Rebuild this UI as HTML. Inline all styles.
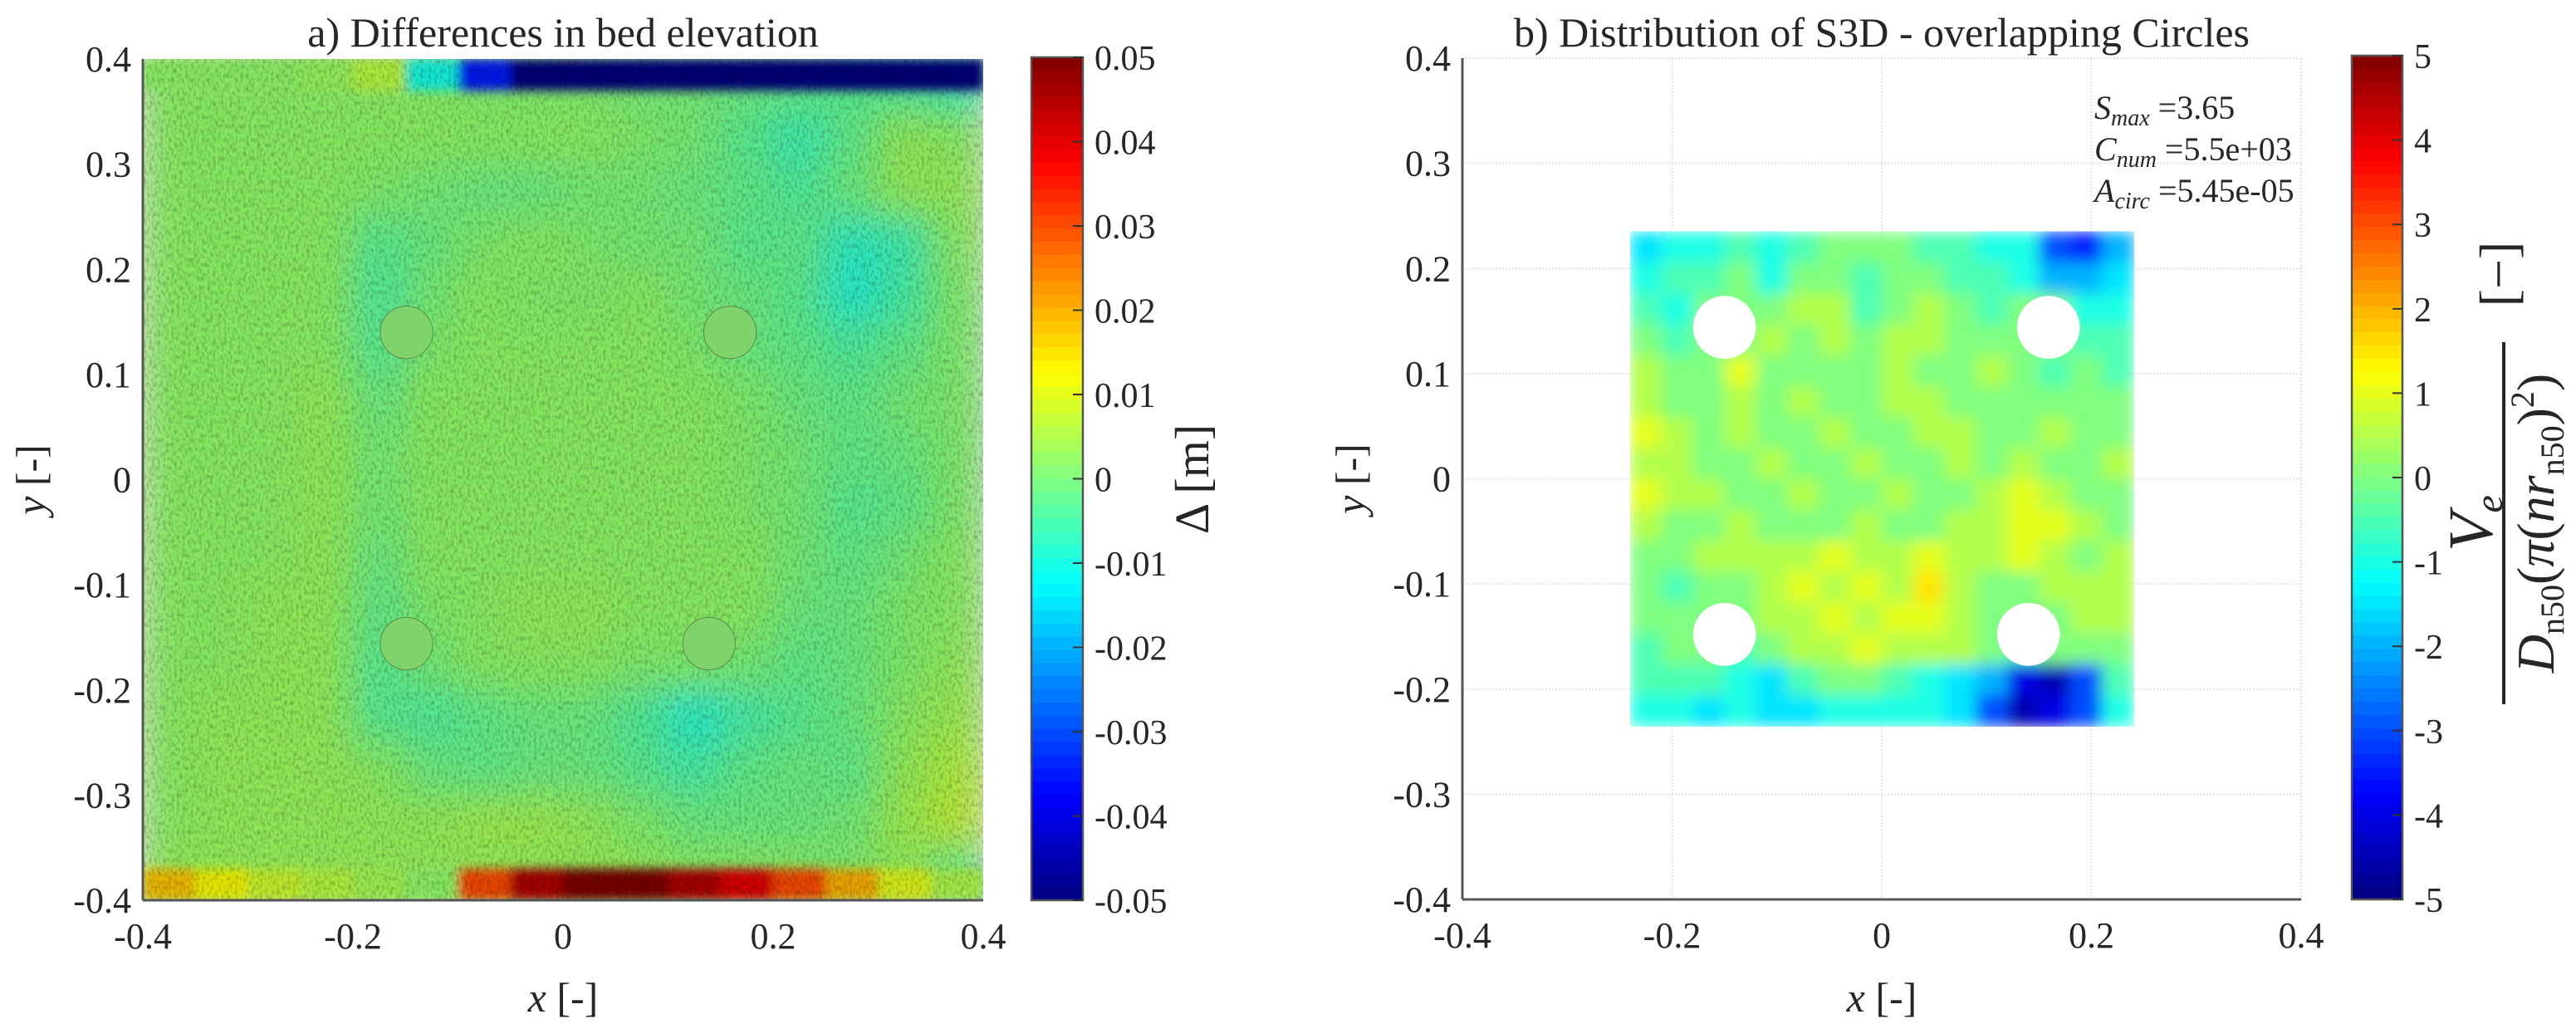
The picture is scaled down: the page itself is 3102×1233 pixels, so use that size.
<!DOCTYPE html>
<html><head><meta charset="utf-8">
<style>
html,body{margin:0;padding:0;background:#fff;}
svg{display:block;}
text{font-family:"Liberation Serif",serif;fill:#262626;}
</style></head>
<body>
<svg id="fig" width="3102" height="1233" viewBox="0 0 3102 1233" xmlns="http://www.w3.org/2000/svg">
<defs>
  <filter id="blurL" x="0" y="0" width="1" height="1" filterUnits="objectBoundingBox"><feGaussianBlur stdDeviation="22" edgeMode="duplicate"/></filter>
  <filter id="blurR" x="0" y="0" width="1" height="1" filterUnits="objectBoundingBox"><feGaussianBlur stdDeviation="9" edgeMode="duplicate"/></filter>
  <filter id="blurS" x="0" y="0" width="1" height="1" filterUnits="objectBoundingBox"><feGaussianBlur stdDeviation="6" edgeMode="duplicate"/></filter>
  <filter id="grain" x="0" y="0" width="1" height="1">
    <feTurbulence type="fractalNoise" baseFrequency="0.3 0.18" numOctaves="2" seed="3"/>
    <feColorMatrix type="matrix" values="0 0 0 0 0  0 0 0 0 0  0 0 0 0 0  1.2 0 0 0 -0.5"/>
  </filter>
  <clipPath id="clipL"><rect x="172" y="71" width="1012" height="1013"/></clipPath>
  <clipPath id="clipR"><rect x="1761" y="70" width="1010" height="1013"/></clipPath>
</defs>
<g id="left"></g>
<g id="right"></g>
</svg>
<script>
// ---------- data ----------
const xTicks = [-0.4, -0.2, 0, 0.2, 0.4];
const xTickLabels = ["-0.4", "-0.2", "0", "0.2", "0.4"];
const yTicks = [0.4, 0.3, 0.2, 0.1, 0, -0.1, -0.2, -0.3, -0.4];
const yTickLabels = ["0.4", "0.3", "0.2", "0.1", "0", "-0.1", "-0.2", "-0.3", "-0.4"];
const cbLeftTicks = [0.05, 0.04, 0.03, 0.02, 0.01, 0, -0.01, -0.02, -0.03, -0.04, -0.05];
const cbLeftLabels = ["0.05", "0.04", "0.03", "0.02", "0.01", "0", "-0.01", "-0.02", "-0.03", "-0.04", "-0.05"];
const cbRightTicks = [5, 4, 3, 2, 1, 0, -1, -2, -3, -4, -5];
const cbRightLabels = ["5", "4", "3", "2", "1", "0", "-1", "-2", "-3", "-4", "-5"];

// panel a: bed elevation differences in mm, 16x16 cells over [-0.4,0.4]^2, row 0 = top
const bedDiffMM = [
 [2,2,2,2,2,2,1,1,1,0,0,-1,-2,-3,-4,-6],
 [2,2,2,2,2,2,2,2,2,1,0,-3,-6,-2,3,2],
 [2,2,2,2,1,0,-1,-1,0,0,-1,-2,-4,-1,3,3],
 [2,2,2,2,-3,-1,1,2,1,0,0,-3,-2,-8,-6,2],
 [2,2,2,2,-4,0,2,1,1,2,0,-1,-3,-9,-5,1],
 [2,2,2,2,-3,1,2,2,2,2,1,-1,-2,-4,-2,1],
 [2,2,2,3,-1,2,2,2,2,2,2,1,-1,-2,0,1],
 [2,2,2,3,0,2,2,2,2,2,2,1,0,-2,-1,1],
 [2,2,2,3,0,2,2,2,2,2,2,1,0,-3,-2,1],
 [2,2,2,3,-1,2,2,2,2,2,2,2,0,-2,0,2],
 [2,2,3,3,-2,1,2,3,3,2,2,2,-1,-1,1,2],
 [2,2,3,3,-3,0,2,2,2,1,1,0,-2,-1,1,3],
 [2,3,3,3,-3,-4,-2,-1,-1,-4,-9,-5,-3,-1,2,4],
 [2,3,3,3,2,-1,-2,-1,-1,-3,-5,-2,-1,-2,3,6],
 [2,3,3,3,3,3,4,4,3,1,-1,-1,-1,0,4,7],
 [3,3,3,3,3,3,3,3,3,3,2,2,2,1,3,-2]
];
const topStripMM = [2,2,2,3,6,-10,-35,-50,-50,-50,-50,-50,-50,-50,-50,-50];
const bottomStripMM = [18,12,8,6,4,2,30,45,50,50,45,40,30,20,10,5];
const pileX = [-0.149, 0.159, -0.149, 0.139];
const pileY = [0.140, 0.140, -0.156, -0.156];
const pileR = 0.025;

// panel b: S3D values, 16x16 cells over x[-0.24,0.24], y[-0.235,0.235], row 0 = top
const s3dValues = [
 [-1.5,-1,-1,-0.5,-1,-0.5,0,0,0,-0.5,-0.5,-1,-1,-3,-3.5,-2],
 [-1,-0.5,-0.5,0,-1,0,0,-0.5,0,0,-0.5,-0.5,-1,-2,-2,-1.5],
 [-0.5,-1,0,0,0,0.5,0.5,-0.5,0,0.5,0,-0.5,0,0,-1,-1],
 [0,-0.5,0,0,0.5,0,0.5,0,0.5,0.5,0,0,0,0,-0.5,-0.5],
 [0.5,0,0,1,0,0,0,0,0.5,0,0,0.5,0,-0.5,0,-0.5],
 [0.5,0,0,0.5,0,0.5,0,0,0.5,0.5,0,0,0,0,0,0],
 [1,0.5,0,0.5,0,0,0.5,0,0,0.5,0.5,0,0,0.5,0,0],
 [0.5,0.5,0,0,0.5,0,0,0.5,0,0,0.5,0,0.5,0,0,0.5],
 [1,0.5,0.5,0,0,0.5,0,0,0.5,0,0,0.5,1,0.5,0,0],
 [0.5,0,0,0.5,0,0,0,0.5,0,0,0.5,0.5,1,1,0.5,0],
 [0,0,0.5,0.5,0.5,0.5,1,0.5,0.5,1,0.5,0.5,1,0.5,0,0.5],
 [0,-0.5,0,0,0.5,1,0.5,1,0.5,1.5,0.5,0,0,0.5,0.5,0.5],
 [0,0,0,0,0.5,0.5,1,0.5,1,1,0.5,0,0,0,0.5,0.5],
 [-0.5,0,0,-0.5,0,0.5,0.5,1,0.5,0.5,0.5,0,-0.5,0,0,0],
 [-0.5,-0.5,-0.5,-1,-1.5,-0.5,0,0,-0.5,-1,-1.5,-2,-4,-4.5,-3,-0.5],
 [-1,-1,-1.5,-1,-1.5,-1.5,-1,-1,-1,-1,-1.5,-3,-4.5,-4,-3,-1]
];
const holeX = [-0.15, 0.159, -0.15, 0.14];
const holeY = [0.144, 0.144, -0.148, -0.148];
const holeR = 0.03;
const s3dXRange = [-0.24, 0.24];
const s3dYRange = [-0.235, 0.235];

// ---------- helpers ----------
const NS = "http://www.w3.org/2000/svg";
function mk(tag, attrs, parent) {
  const e = document.createElementNS(NS, tag);
  for (const k in attrs) e.setAttribute(k, attrs[k]);
  if (parent) parent.appendChild(e);
  return e;
}
function clamp(v){return Math.max(0,Math.min(1,v));}
function jet(t) {
  t = clamp(t);
  const r = clamp(1.5 - Math.abs(4*t - 3)), g = clamp(1.5 - Math.abs(4*t - 2)), b = clamp(1.5 - Math.abs(4*t - 1));
  return "rgb(" + Math.round(r*255) + "," + Math.round(g*255) + "," + Math.round(b*255) + ")";
}
function makeAxis(X0, X1, Y0, Y1) {
  return {
    sx: v => X0 + (v + 0.4) / 0.8 * (X1 - X0),
    sy: v => Y0 + (0.4 - v) / 0.8 * (Y1 - Y0),
    X0, X1, Y0, Y1
  };
}
function drawAxes(g, ax, grid) {
  if (grid) {
    xTicks.forEach(v => {
      const l = mk("line", {x1: ax.sx(v), x2: ax.sx(v), y1: ax.Y0, y2: ax.Y1, stroke: "#e3e3e3", "stroke-width": 2, "stroke-dasharray": "2 2"}, g);
      
      
    });
    yTicks.forEach(v => {
      const l = mk("line", {x1: ax.X0, x2: ax.X1, y1: ax.sy(v), y2: ax.sy(v), stroke: "#e3e3e3", "stroke-width": 2, "stroke-dasharray": "2 2"}, g);
      
      
    });
  }
  const xl = mk("line", {x1: ax.X0, x2: ax.X1, y1: ax.Y1, y2: ax.Y1, stroke: "#555", "stroke-width": 3}, g);
  
  
  const yl = mk("line", {x1: ax.X0, x2: ax.X0, y1: ax.Y0, y2: ax.Y1, stroke: "#555", "stroke-width": 3}, g);
  
  
  xTicks.forEach((v, i) => {
    const t = mk("text", {x: ax.sx(v), y: ax.Y1 + 58, "font-size": 44, "text-anchor": "middle"}, g);
    t.textContent = xTickLabels[i];
    
    
  });
  yTicks.forEach((v, i) => {
    const t = mk("text", {x: ax.X0 - 14, y: ax.sy(v) + 15, "font-size": 44, "text-anchor": "end"}, g);
    t.textContent = yTickLabels[i];
    
    
  });
  const cx = (ax.X0 + ax.X1) / 2, cy = (ax.Y0 + ax.Y1) / 2;
  const xlab = mk("text", {x: cx, y: 1218, "font-size": 50, "text-anchor": "middle"}, g);
  xlab.innerHTML = '<tspan font-style="italic">x</tspan> [-]';
  
  
  const ylab = mk("text", {x: 0, y: 0, "font-size": 50, "text-anchor": "middle", transform: "translate(" + (ax.X0 - 118) + "," + cy + ") rotate(-90)"}, g);
  ylab.innerHTML = '<tspan font-style="italic">y</tspan> [-]';
  
  
}
function drawColorbar(g, x0, x1, y0, y1, vmin, vmax, ticks, labels) {
  const n = 64, h = (y1 - y0) / n;
  for (let i = 0; i < n; i++) {
    const r = mk("rect", {x: x0, y: y0 + i*h, width: x1 - x0, height: h + 0.6, fill: jet(1 - (i + 0.5)/n)}, g);
    
    
  }
  const b = mk("rect", {x: x0, y: y0, width: x1 - x0, height: y1 - y0, fill: "none", stroke: "#555", "stroke-width": 2.5}, g);
  
  
  ticks.forEach((v, i) => {
    const y = y1 - (v - vmin) / (vmax - vmin) * (y1 - y0);
    const tk = mk("line", {x1: x1 - 12, x2: x1, y1: y, y2: y, stroke: "#333", "stroke-width": 2}, g);
    
    
    const t = mk("text", {x: x1 + 14, y: y + 15, "font-size": 42}, g);
    t.textContent = labels[i];
    
    
  });
}

// ---------- panel a ----------
(function(){
  const g = document.getElementById("left");
  const ax = makeAxis(172, 1184, 71, 1084);
  const title = mk("text", {x: (ax.X0+ax.X1)/2, y: 56, "font-size": 50, "text-anchor": "middle"}, g);
  title.textContent = "a) Differences in bed elevation";
  
  

  const img = mk("g", {"clip-path": "url(#clipL)"}, g);
  
  
  const cells = mk("g", {filter: "url(#blurL)"}, img);
  const nR = bedDiffMM.length, nC = bedDiffMM[0].length;
  const dx = 0.8 / nC, dy = 0.8 / nR;
  for (let r = 0; r < nR; r++) for (let c = 0; c < nC; c++) {
    const v = bedDiffMM[r][c] / 1000;
    const x = ax.sx(-0.4 + c*dx), y = ax.sy(0.4 - r*dy);
    const rc = mk("rect", {x: x, y: y, width: ax.sx(-0.4 + (c+1)*dx) - x + 0.8, height: ax.sy(0.4 - (r+1)*dy) - y + 0.8, fill: jet((v + 0.05) / 0.1)}, cells);
    
    
  }
  const sh = 0.03;
  const strips = mk("g", {filter: "url(#blurS)"}, img);
  topStripMM.forEach((m, c) => {
    const x = ax.sx(-0.4 + c*dx);
    const rc = mk("rect", {x: x, y: ax.sy(0.4), width: ax.sx(-0.4 + (c+1)*dx) - x + 0.8, height: ax.sy(0.4 - sh) - ax.sy(0.4), fill: jet((m/1000 + 0.05) / 0.1)}, strips);
    
    
  });
  bottomStripMM.forEach((m, c) => {
    const x = ax.sx(-0.4 + c*dx);
    const rc = mk("rect", {x: x, y: ax.sy(-0.4 + sh), width: ax.sx(-0.4 + (c+1)*dx) - x + 0.8, height: ax.sy(-0.4) - ax.sy(-0.4 + sh), fill: jet((m/1000 + 0.05) / 0.1)}, strips);
    
    
  });
  const gr = mk("rect", {x: ax.X0, y: ax.Y0, width: ax.X1-ax.X0, height: ax.Y1-ax.Y0, filter: "url(#grain)", opacity: 0.45}, img);
  
  
  const dim = mk("rect", {x: ax.X0, y: ax.Y0, width: ax.X1-ax.X0, height: ax.Y1-ax.Y0, fill: "#000", opacity: 0.1}, img);
  
  
  pileX.forEach((px, i) => {
    const c = mk("circle", {cx: ax.sx(px), cy: ax.sy(pileY[i]), r: ax.sx(pileR) - ax.sx(0), fill: "#7ed36a", stroke: "#5a8a4a", "stroke-width": 1}, img);
    
    
  });
  drawAxes(g, ax, false);
  drawColorbar(g, 1242, 1304, 69, 1084, -0.05, 0.05, cbLeftTicks, cbLeftLabels);
  const cl = mk("text", {x: 0, y: 0, "font-size": 58, "text-anchor": "middle", transform: "translate(1455,577) rotate(-90)"}, g);
  cl.textContent = "Δ [m]";
  
  
})();

// ---------- panel b ----------
(function(){
  const g = document.getElementById("right");
  const ax = makeAxis(1761, 2771, 70, 1083);
  const title = mk("text", {x: (ax.X0+ax.X1)/2, y: 56, "font-size": 50, "text-anchor": "middle"}, g);
  title.textContent = "b) Distribution of S3D - overlapping Circles";
  
  
  drawAxes(g, ax, true);

  const img = mk("g", {"clip-path": "url(#clipR)"}, g);
  
  
  const cells = mk("g", {filter: "url(#blurR)"}, img);
  const nR = s3dValues.length, nC = s3dValues[0].length;
  const dx = (s3dXRange[1]-s3dXRange[0]) / nC, dy = (s3dYRange[1]-s3dYRange[0]) / nR;
  for (let r = 0; r < nR; r++) for (let c = 0; c < nC; c++) {
    const v = s3dValues[r][c];
    const x = ax.sx(s3dXRange[0] + c*dx), y = ax.sy(s3dYRange[1] - r*dy);
    const rc = mk("rect", {x: x, y: y, width: ax.sx(s3dXRange[0] + (c+1)*dx) - x + 0.8, height: ax.sy(s3dYRange[1] - (r+1)*dy) - y + 0.8, fill: jet((v + 5) / 10)}, cells);
    
    
  }
  holeX.forEach((hx, i) => {
    const c = mk("circle", {cx: ax.sx(hx), cy: ax.sy(holeY[i]), r: ax.sx(holeR) - ax.sx(0), fill: "#fff"}, img);
    
    
  });

  const ann = [
    ['<tspan font-style="italic">S</tspan><tspan font-style="italic" font-size="28" dy="8">max</tspan><tspan dy="-8"> =3.65</tspan>', 143, 'annotation-smax'],
    ['<tspan font-style="italic">C</tspan><tspan font-style="italic" font-size="28" dy="8">num</tspan><tspan dy="-8"> =5.5e+03</tspan>', 193, 'annotation-cnum'],
    ['<tspan font-style="italic">A</tspan><tspan font-style="italic" font-size="28" dy="8">circ</tspan><tspan dy="-8"> =5.45e-05</tspan>', 243, 'annotation-acirc']
  ];
  ann.forEach(a => {
    const t = mk("text", {x: 2522, y: a[1], "font-size": 40}, g);
    t.innerHTML = a[0];
    
    
  });

  drawColorbar(g, 2832, 2893, 67, 1083, -5, 5, cbRightTicks, cbRightLabels);

  const lab = mk("g", {transform: "translate(3015,630) rotate(-90)"}, g);
  
  
  mk("line", {x1: -218, x2: 218, y1: 0, y2: 0, stroke: "#262626", "stroke-width": 4}, lab);
  const num = mk("text", {x: 0, y: -14, "font-size": 76, "text-anchor": "middle"}, lab);
  num.innerHTML = '<tspan font-style="italic">V</tspan><tspan font-style="italic" font-size="48" dy="12">e</tspan>';
  const den = mk("text", {x: 0, y: 60, "font-size": 64, "text-anchor": "middle"}, lab);
  den.innerHTML = '<tspan font-style="italic">D</tspan><tspan font-size="40" dy="12">n</tspan><tspan font-size="40">50</tspan><tspan dy="-12">(</tspan><tspan font-style="italic">π</tspan><tspan>(</tspan><tspan font-style="italic">nr</tspan><tspan font-size="40" dy="12">n</tspan><tspan font-size="40">50</tspan><tspan dy="-12">)</tspan><tspan font-size="40" dy="-24">2</tspan><tspan dy="24">)</tspan>';
  const br = mk("text", {x: 0, y: 0, "font-size": 64, "text-anchor": "middle", transform: "translate(3030,330) rotate(-90)"}, g);
  br.textContent = "[−]";
  
  
})();
</script>
</body></html>
